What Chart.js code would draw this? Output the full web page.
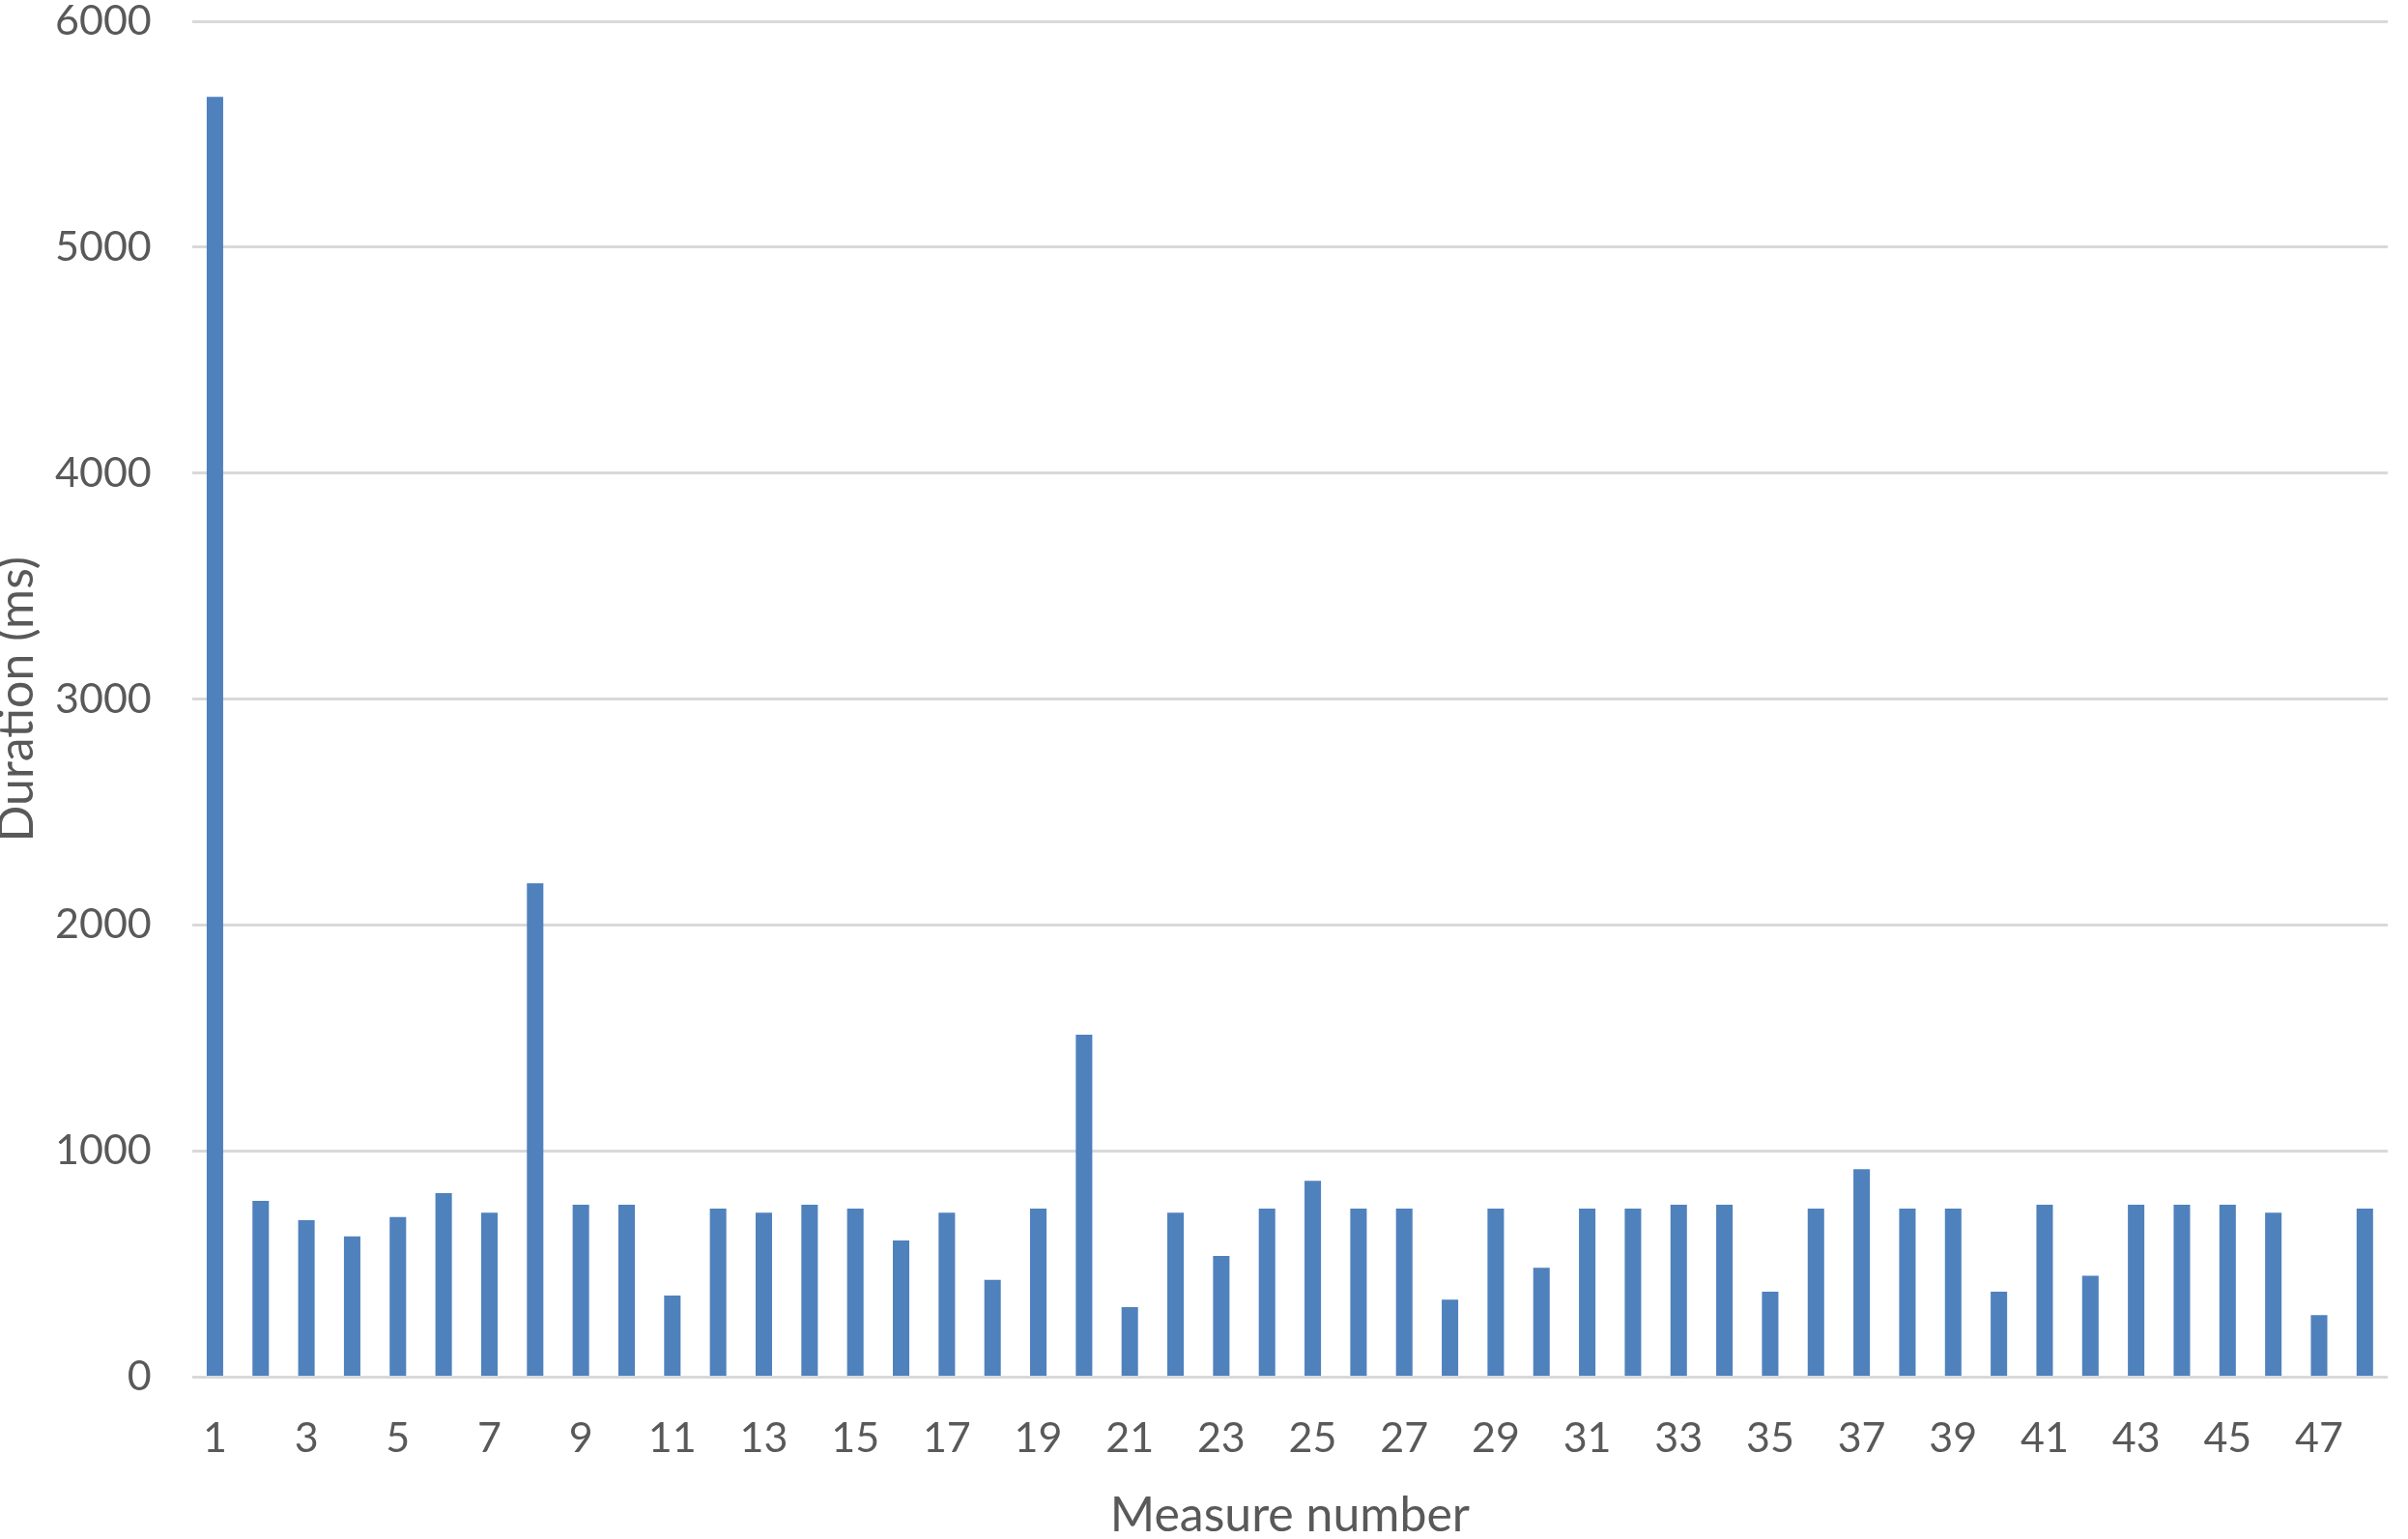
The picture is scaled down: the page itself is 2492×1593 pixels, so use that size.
<!DOCTYPE html>
<html>
<head>
<meta charset="utf-8">
<script src="https://cdn.jsdelivr.net/npm/chart.js@4/dist/chart.umd.min.js"></script>
<style>
  html, body { margin: 0; padding: 0; background: #fff; }
  #wrap { width: 2492px; height: 1593px; position: relative; }
</style>
</head>
<body>
<div id="wrap"><canvas id="myChart" width="2492" height="1593"></canvas></div>
<script>
'use strict';

// chart data
let measures = ['1', '2', '3', '4', '5', '6', '7', '8', '9', '10', '11', '12',
  '13', '14', '15', '16', '17', '18', '19', '20', '21', '22', '23', '24',
  '25', '26', '27', '28', '29', '30', '31', '32', '33', '34', '35', '36',
  '37', '38', '39', '40', '41', '42', '43', '44', '45', '46', '47', '48'];

let durations = [5665, 780, 694, 623, 708, 814, 727, 2185, 763, 763, 361, 746,
  727, 763, 746, 604, 727, 430, 746, 1515, 309, 727, 536, 746,
  868, 746, 746, 343, 746, 484, 746, 746, 763, 763, 378, 746,
  920, 746, 746, 378, 763, 448, 763, 763, 763, 727, 274, 746];

let yTicks = [0, 1000, 2000, 3000, 4000, 5000, 6000];

let textColor = '#595959';
let fontName = 'Lato, "Open Sans", sans-serif';

let ctx = document.getElementById('myChart').getContext('2d');
const myChart = new Chart(ctx, {
  type: 'bar',
  data: {
    labels: measures,
    datasets: [{
      label: 'Duration',
      data: durations,
      backgroundColor: '#4F81BD',
      borderWidth: 0,
      barPercentage: 0.36,
      categoryPercentage: 1
    }]
  },
  options: {
    responsive: false,
    animation: false,
    layout: {
      padding: { top: 22, right: 21, bottom: -6, left: -12 }
    },
    plugins: {
      legend: { display: false },
      tooltip: { enabled: false }
    },
    scales: {
      x: {
        grid: { display: false, drawTicks: false },
        border: { display: false },
        ticks: {
          color: textColor,
          font: { family: fontName, size: 43 },
          padding: 38,
          autoSkip: false,
          maxRotation: 0,
          callback: function (val, i) {
            return i % 2 === 0 ? measures[i] : '';
          }
        },
        title: {
          display: true,
          text: 'Measure number',
          color: textColor,
          font: { family: fontName, size: 50 },
          padding: { top: -14, bottom: 0 }
        }
      },
      y: {
        min: yTicks[0],
        max: yTicks[yTicks.length - 1],
        afterBuildTicks: function (axis) {
          axis.ticks = yTicks.map(function (v) { return { value: v }; });
        },
        // let the top tick label stick out instead of pushing the plot down
        afterFit: function (axis) {
          axis.paddingTop = 0;
          axis.paddingBottom = 0;
        },
        grid: { color: '#D9D9D9', lineWidth: 3, drawTicks: false },
        border: { display: false },
        ticks: {
          color: textColor,
          font: { family: fontName, size: 43 },
          padding: 42,
          callback: function (val) {
            return String(val);
          }
        },
        title: {
          display: true,
          text: 'Duration (ms)',
          color: textColor,
          font: { family: fontName, size: 50 },
          padding: { top: 0, bottom: -33 }
        }
      }
    }
  }
});
</script>
</body>
</html>
